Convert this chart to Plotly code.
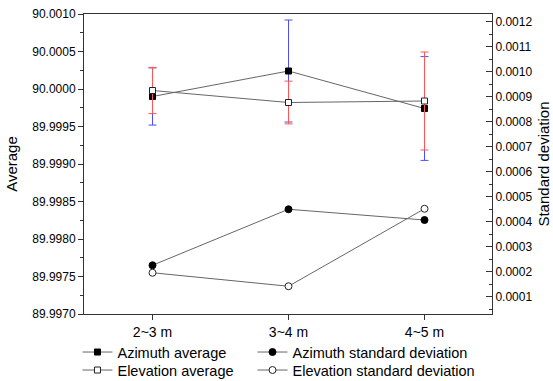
import plotly.graph_objects as go

categories = ["2~3 m", "3~4 m", "4~5 m"]
azimuth_avg = [89.99990, 90.00024, 89.99974]
azimuth_avg_err = [0.000381, 0.000680, 0.000692]
elevation_avg = [89.99998, 89.99982, 89.99984]
elevation_avg_err = [0.000308, 0.000285, 0.000653]
azimuth_std = [0.000225, 0.000449, 0.000406]
elevation_std = [0.000195, 0.000141, 0.000451]

FONT = "Liberation Sans, Arial, sans-serif"
LINE_C = "#666666"
AX_C = "#333333"

fig = go.Figure()

fig.add_trace(go.Scatter(
    x=categories, y=azimuth_avg, name="Azimuth average", mode="lines+markers",
    line=dict(color=LINE_C, width=1), showlegend=True,
    marker=dict(symbol="square", size=6, color="black", line=dict(color="black", width=1)),
    error_y=dict(type="data", array=azimuth_avg_err, visible=True, color="#4d4dff", thickness=1, width=4),
    legend="legend", yaxis="y"))

fig.add_trace(go.Scatter(
    x=categories, y=elevation_avg, name="Elevation average", mode="lines+markers",
    line=dict(color=LINE_C, width=1), showlegend=True,
    marker=dict(symbol="square", size=6, color="white", line=dict(color="#222222", width=1)),
    error_y=dict(type="data", array=elevation_avg_err, visible=True, color="#ff5555", thickness=1, width=4),
    legend="legend2", yaxis="y"))

fig.add_trace(go.Scatter(
    x=categories, y=azimuth_std, name="Azimuth standard deviation", mode="lines+markers",
    line=dict(color=LINE_C, width=1), showlegend=True,
    marker=dict(symbol="circle", size=7, color="black", line=dict(color="black", width=1)),
    legend="legend3", yaxis="y2"))

fig.add_trace(go.Scatter(
    x=categories, y=elevation_std, name="Elevation standard deviation", mode="lines+markers",
    line=dict(color=LINE_C, width=1), showlegend=True,
    marker=dict(symbol="circle", size=7, color="white", line=dict(color="#222222", width=1)),
    legend="legend4", yaxis="y2"))

leg_common = dict(bgcolor="rgba(0,0,0,0)", font=dict(family=FONT, size=14.5, color="black"),
                  xanchor="left", yanchor="middle", borderwidth=0, itemwidth=30)

fig.update_layout(
    width=553, height=381, showlegend=True,
    margin=dict(l=84, r=61, t=14, b=67, autoexpand=False),
    paper_bgcolor="white", plot_bgcolor="white",
    font=dict(family=FONT, color="black"),
    xaxis=dict(
        type="category", range=[-0.5037, 2.4963], automargin=False,
        showline=True, linecolor=AX_C, linewidth=1, mirror=True,
        ticks="outside", ticklen=5, tickcolor=AX_C, showgrid=False, zeroline=False,
        tickfont=dict(family=FONT, size=14, color="black"),
    ),
    yaxis=dict(
        range=[89.9970, 90.0010], dtick=0.0005, tick0=89.9970, tickformat=".4f", automargin=False,
        showline=True, linecolor=AX_C, linewidth=1,
        ticks="outside", ticklen=5, tickcolor=AX_C, showgrid=False, zeroline=False,
        minor=dict(dtick=0.00025, ticks="outside", ticklen=3, tickcolor=AX_C, showgrid=False),
        tickfont=dict(family=FONT, size=12, color="black"),
        title=dict(text="Average", font=dict(family=FONT, size=15, color="black"), standoff=10),
    ),
    yaxis2=dict(
        overlaying="y", side="right", automargin=False,
        range=[0.00003, 0.00123], dtick=0.0001, tick0=0.0001, tickformat=".4f",
        showline=True, linecolor=AX_C, linewidth=1,
        ticks="inside", ticklen=6, tickcolor=AX_C, showgrid=False, zeroline=False,
        minor=dict(dtick=0.00005, ticks="inside", ticklen=3, tickcolor=AX_C, showgrid=False),
        tickfont=dict(family=FONT, size=12, color="black"),
        title=dict(text="Standard deviation", font=dict(family=FONT, size=15, color="black"), standoff=7),
    ),
    legend=dict(x=-0.016, y=-0.127, **leg_common),
    legend2=dict(x=-0.016, y=-0.187, **leg_common),
    legend3=dict(x=0.413, y=-0.127, **leg_common),
    legend4=dict(x=0.413, y=-0.187, **leg_common),
)

fig.write_html("out.html")
